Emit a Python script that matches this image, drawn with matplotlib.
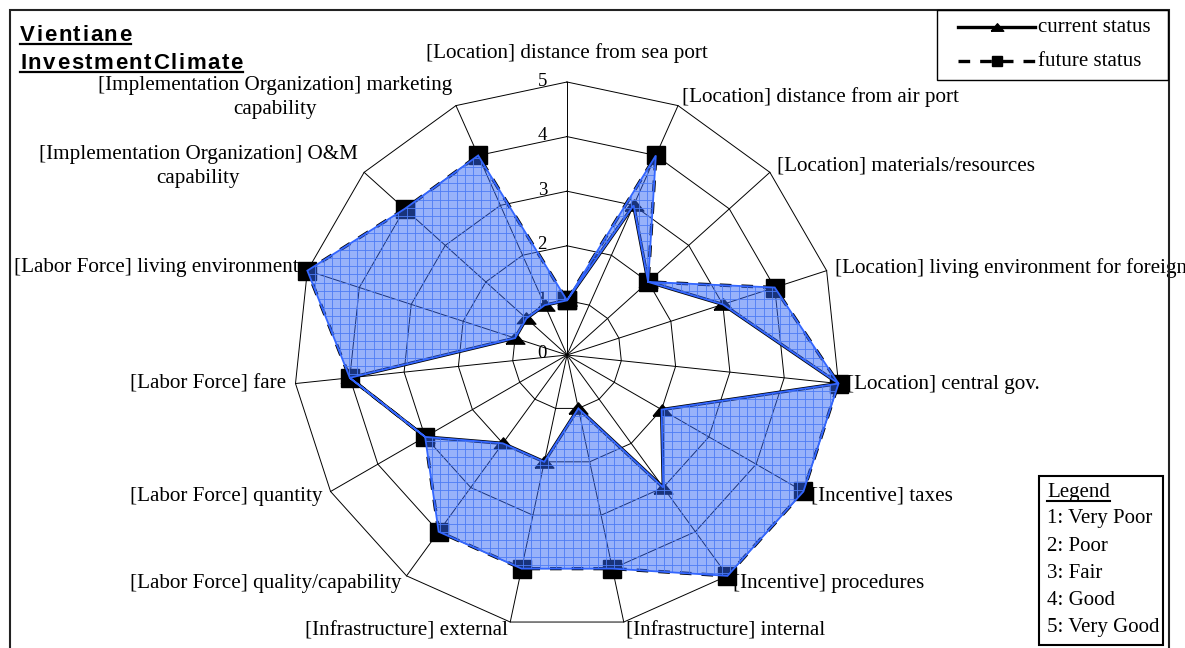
import numpy as np
import matplotlib
matplotlib.use("Agg")
import matplotlib.pyplot as plt
from matplotlib.path import Path
from matplotlib.patches import PathPatch, Rectangle
from matplotlib.lines import Line2D
from matplotlib.font_manager import findfont, FontProperties
from matplotlib.ft2font import FT2Font

# ---- data -------------------------------------------------------------
categories = [
    "[Location] distance from sea port",
    "[Location] distance from air port",
    "[Location] materials/resources",
    "[Location] living environment for foreigners",
    "[Location] central gov.",
    "[Incentive] taxes",
    "[Incentive] procedures",
    "[Infrastructure] internal",
    "[Infrastructure] external",
    "[Labor Force] quality/capability",
    "[Labor Force] quantity",
    "[Labor Force] fare",
    "[Labor Force] living environment",
    "[Implementation Organization] O&M\ncapability",
    "[Implementation Organization] marketing\ncapability",
]
current_status = [1, 3, 2, 3, 5, 2, 3, 1, 2, 2, 3, 4, 1, 1, 1]
future_status = [1, 4, 2, 4, 5, 5, 5, 4, 4, 4, 3, 4, 5, 4, 4]
scale_ticks = [0, 1, 2, 3, 4, 5]
scale_legend = ["1: Very Poor", "2: Poor", "3: Fair", "4: Good", "5: Very Good"]
title_lines = ["Vientiane", "InvestmentClimate"]
series_names = ["current status", "future status"]

# ---- figure -----------------------------------------------------------
W, H = 1185, 648
fig = plt.figure(figsize=(W / 100, H / 100), dpi=100)
SERIF = "Liberation Serif"
SANS = "Liberation Sans"


def fx(px):
    return px / W


def fy(py):
    return 1 - py / H


cx, cy, R = 567, 355, 273
ax = fig.add_axes([fx(cx - R), fy(cy + R), 2 * R / W, 2 * R / H], projection="polar")
ax.set_theta_zero_location("N")
ax.set_theta_direction(-1)
rmax = scale_ticks[-1]
ax.set_ylim(0, rmax)
ax.axis("off")

n = len(categories)
theta = np.arange(n) * 2 * np.pi / n
theta_c = np.append(theta, theta[0])
cur_c = np.append(current_status, current_status[0])
fut_c = np.append(future_status, future_status[0])

# polygon grid: rings and spokes
for r in scale_ticks[1:]:
    ax.plot(theta_c, [r] * (n + 1), color="black", lw=0.7, zorder=1, clip_on=False)
for t in theta:
    ax.plot([t, t], [0, rmax], color="black", lw=0.7, zorder=1, clip_on=False)

# scale numbers along the top spoke
for r in scale_ticks:
    ax.annotate(str(r), xy=(0, r), xytext=(-20, 1), textcoords="offset pixels",
                ha="right", va="center", fontsize=13.5, family=SERIF, zorder=2,
                annotation_clip=False)

# series styles
tri = [(-1, -0.6), (1, -0.6), (0, 0.6), (-1, -0.6)]
cur_style = dict(color="black", lw=2.4, ls="-")
fut_style = dict(color="black", lw=2.4, ls=(0, (3.5, 3)))

ax.plot(theta_c, cur_c, marker=tri, ms=13.5, zorder=3, clip_on=False, **cur_style)
ax.plot(theta_c, fut_c, marker="s", ms=12.5, zorder=3.5, clip_on=False, **fut_style)

# shaded gap between current and future status
outer = np.column_stack([theta_c, fut_c])
inner = np.column_stack([theta_c[::-1], cur_c[::-1]])
verts = np.vstack([outer, inner])
codes = ([Path.MOVETO] + [Path.LINETO] * (n - 1) + [Path.CLOSEPOLY]) * 2
gap = Path(verts, codes)
gap_fill = ax.add_patch(PathPatch(gap, facecolor=(0.2, 0.4, 0.97, 0.5), lw=0,
                                  zorder=4, clip_on=False))
# square check pattern inside the shaded gap
step = 8.3
for xp in np.arange(0, W, step):
    ln = Line2D([xp / W, xp / W], [0, 1], transform=fig.transFigure,
                color="#4d7cf5", lw=0.6, zorder=4.5)
    ln.set_clip_path(gap_fill)
    ax.add_artist(ln)
for yp in np.arange(0, H, step):
    ln = Line2D([0, 1], [yp / H, yp / H], transform=fig.transFigure,
                color="#4d7cf5", lw=0.6, zorder=4.5)
    ln.set_clip_path(gap_fill)
    ax.add_artist(ln)
ax.add_patch(PathPatch(gap, fill=False, edgecolor="#3366ff", lw=1.3, zorder=5,
                       clip_on=False))

# category labels around the outer ring
for t, lab in zip(theta, categories):
    s, c = np.sin(t), np.cos(t)
    if abs(s) < 0.1 and c > 0:
        ha, va, pad = "center", "bottom", 19
    else:
        ha = "left" if s > 0.1 else ("right" if s < -0.1 else "center")
        va, pad = "center", 9
    ax.annotate(lab, xy=(t, rmax), xytext=(pad * s, pad * c), textcoords="offset pixels",
                ha=ha, va=va, multialignment="center", linespacing=1.4,
                fontsize=15.2, family=SERIF, zorder=6, annotation_clip=False)

# outer frame
fig.add_artist(Rectangle((fx(10), fy(700)), fx(1169) - fx(10), fy(10) - fy(700),
                         fill=False, edgecolor="#222222", lw=1.5,
                         transform=fig.transFigure, clip_on=False))

# series legend
fig.add_artist(Rectangle((fx(937), fy(80)), fx(1168) - fx(937), fy(10) - fy(80),
                         fill=False, edgecolor="black", lw=1.0,
                         transform=fig.transFigure))
for yl, style, mk, ms, name in [(27, cur_style, tri, 9, series_names[0]),
                                (61, fut_style, "s", 7.5, series_names[1])]:
    fig.add_artist(Line2D([fx(958), fx(1035)], [fy(yl)] * 2,
                          transform=fig.transFigure, **style))
    fig.add_artist(Line2D([fx(996.5)], [fy(yl)], marker=mk, ms=ms, color="black",
                          ls="none", transform=fig.transFigure))
    fig.text(fx(1038), fy(yl), name, fontsize=15, family=SERIF, va="center")

# rating scale box
fig.add_artist(Rectangle((fx(1039), fy(645)), fx(1163) - fx(1039), fy(476) - fy(645),
                         fill=False, edgecolor="black", lw=1.5,
                         transform=fig.transFigure, clip_on=False))
hdr = fig.text(fx(1047), fy(492), "Legend", fontsize=15, family=SERIF, va="center")
for k, s in enumerate(scale_legend):
    fig.text(fx(1047), fy(519 + 27.2 * k), s, fontsize=15, family=SERIF, va="center")

# title, letter-spaced and underlined
title_size = 16
tracking = 1.55
face = FT2Font(findfont(FontProperties(family=SANS, weight="bold")))
face.set_size(title_size, 100)
for line, base in zip(title_lines, [41, 69]):
    xpos = 20.0
    for ch in line:
        fig.text(fx(xpos), fy(base), ch, fontsize=title_size, fontweight="bold",
                 family=SANS, va="baseline")
        xpos += face.load_char(ord(ch)).linearHoriAdvance / 65536 + tracking
    xend = xpos - tracking
    fig.add_artist(Line2D([fx(20), fx(xend)], [fy(base + 2.5)] * 2, color="black",
                          lw=1.6, transform=fig.transFigure))

fig.canvas.draw()
renderer = fig.canvas.get_renderer()
bb = hdr.get_window_extent(renderer)
fig.add_artist(Line2D([bb.x0 / W, bb.x1 / W], [(bb.y0 + 1) / H] * 2, color="black",
                      lw=1.5, transform=fig.transFigure))

fig.savefig("out.png", dpi=100)
